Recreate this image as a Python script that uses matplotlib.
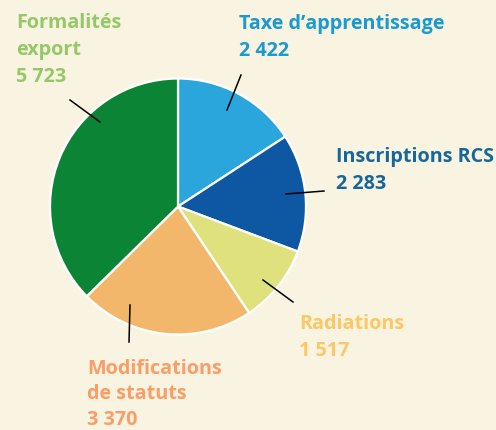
import matplotlib
matplotlib.use("Agg")
import matplotlib.pyplot as plt

# values, clockwise from 12 o'clock
labels = ["Taxe d\u2019apprentissage", "Inscriptions RCS", "Radiations",
          "Modifications\nde statuts", "Formalités\nexport"]
values = [2422, 2283, 1517, 3370, 5723]
value_labels = ["2 422", "2 283", "1 517", "3 370", "5 723"]

slice_colors = ["#2ba6dd", "#0e57a2", "#dfe27c", "#f3b76c", "#0b8535"]
text_colors = ["#1a9ad0", "#17679c", "#fdc765", "#fb9d66", "#95c866"]

W, H = 496, 431
bg = "#f9f4e1"

fig = plt.figure(figsize=(W / 100, H / 100), dpi=100, facecolor=bg)
ax = fig.add_axes([0, 0, 1, 1])

def py(y):
    # image pixel row -> data y
    return H - y

ax.pie(values, colors=slice_colors, startangle=90, counterclock=False,
       center=(178, py(207.5)), radius=128, frame=True,
       wedgeprops=dict(edgecolor="white", linewidth=1.6))
ax.set_xlim(0, W)
ax.set_ylim(0, H)
ax.set_aspect("equal")
ax.axis("off")

# leader lines (pixel coords: inside point, outside point)
leaders = [((227, 111), (241, 76)),
           ((286, 195), (324, 192)),
           ((263, 281), (293, 303)),
           ((130, 306), (129, 343)),
           ((100, 123), (70, 101))]
for (x1, y1), (x2, y2) in leaders:
    ax.plot([x1, x2], [py(y1), py(y2)], color="black", lw=1.1)

# label anchors: left x, baseline of first line, line step
anchors = [(239, 29.3, 27), (336, 161.7, 27), (299, 329, 27),
           (87, 374, 25.5), (16, 28.3, 27)]
for lab, val, col, (x, y, step) in zip(labels, value_labels, text_colors, anchors):
    lines = lab.split("\n") + [val]
    for i, line in enumerate(lines):
        ax.text(x, py(y + i * step), line, color=col, fontsize=14.2,
                fontfamily="Open Sans", fontweight="bold",
                ha="left", va="baseline")

fig.savefig("out.png", dpi=100, facecolor=bg)
